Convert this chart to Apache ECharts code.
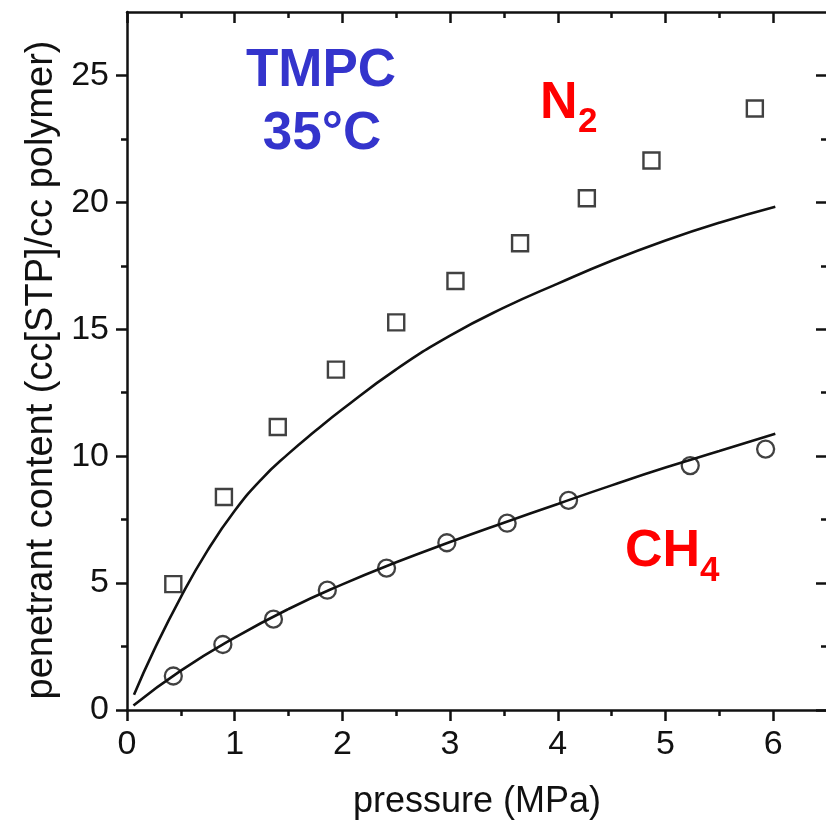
<!DOCTYPE html>
<html>
<head>
<meta charset="utf-8">
<script src="https://cdn.jsdelivr.net/npm/echarts@6/dist/echarts.min.js"></script>
<style>
  html, body { margin: 0; padding: 0; background: #ffffff; }
  #chart { width: 826px; height: 826px; }
</style>
</head>
<body>
<div id="chart"></div>
<script>
// Tick positions
const xMajorTicks = [0, 1, 2, 3, 4, 5, 6];
const xMinorTicks = [0.5, 1.5, 2.5, 3.5, 4.5, 5.5];
const yMajorTicks = [0, 5, 10, 15, 20, 25];
const yMinorTicks = [2.5, 7.5, 12.5, 17.5, 22.5];

// Measured sorption data: [pressure MPa, cc(STP)/cc polymer]
const n2Measured = [
  [0.43, 4.96], [0.90, 8.39], [1.40, 11.15], [1.94, 13.41], [2.50, 15.27],
  [3.05, 16.90], [3.65, 18.39], [4.27, 20.16], [4.87, 21.65], [5.83, 23.70]
];
const ch4Measured = [
  [0.43, 1.34], [0.89, 2.58], [1.36, 3.58], [1.86, 4.72], [2.41, 5.59],
  [2.97, 6.59], [3.53, 7.36], [4.10, 8.26], [5.23, 9.63], [5.93, 10.28]
];

// Model curves
const n2Fit = [
  [0.065, 0.60], [0.25, 2.35], [0.50, 4.45], [0.75, 6.30], [1.00, 7.85],
  [1.25, 9.10], [1.50, 10.10], [1.75, 11.00], [2.00, 11.85], [2.50, 13.42],
  [3.00, 14.75], [3.50, 15.85], [4.00, 16.80], [4.50, 17.70], [5.00, 18.50],
  [5.50, 19.20], [6.02, 19.83]
];
const ch4Fit = [
  [0.06, 0.18], [0.50, 1.55], [1.00, 2.85], [1.50, 3.98], [2.00, 4.95],
  [2.50, 5.82], [3.00, 6.62], [3.50, 7.38], [4.00, 8.12], [4.50, 8.85],
  [5.00, 9.55], [5.50, 10.20], [6.02, 10.88]
];

const X_MAX = 6.5;
const Y_MAX = 27.5;
const INK = '#111111';
const FONT = '"Liberation Sans", Arial, Helvetica, sans-serif';

const gridRect = { left: 127, top: 12, width: 700, height: 698, outerBoundsMode: 'none' };

function makeAxis(kind, gridIndex, position, ticks, tickLen, inside, withLabels, withLine) {
  const isX = kind === 'x';
  return {
    type: 'value',
    gridIndex: gridIndex,
    position: position,
    min: 0,
    max: isX ? X_MAX : Y_MAX,
    interval: isX ? 1 : 5,
    axisLine: { show: withLine, onZero: false, lineStyle: { color: INK, width: 2.5 } },
    axisTick: {
      show: true, inside: inside, length: tickLen,
      customValues: ticks,
      lineStyle: { color: INK, width: 2.5 }
    },
    axisLabel: {
      show: withLabels,
      customValues: ticks,
      margin: 18,
      color: INK,
      fontSize: 34,
      fontFamily: FONT
    },
    splitLine: { show: false }
  };
}

const xAxes = [
  Object.assign(makeAxis('x', 0, 'bottom', xMajorTicks, 11, false, true, true), {
    name: 'pressure (MPa)',
    nameLocation: 'middle',
    nameGap: 74,
    nameTextStyle: { color: INK, fontSize: 36, fontFamily: FONT }
  }),
  makeAxis('x', 0, 'top', xMajorTicks, 11, true, false, true),
  makeAxis('x', 1, 'bottom', xMinorTicks, 6, false, false, false),
  makeAxis('x', 1, 'top', xMinorTicks, 6, true, false, false)
];

const yAxes = [
  Object.assign(makeAxis('y', 0, 'left', yMajorTicks, 11, false, true, true), {
    name: 'penetrant content (cc[STP]/cc polymer)',
    nameLocation: 'middle',
    nameRotate: 90,
    nameGap: 66,
    nameTextStyle: { color: INK, fontSize: 38, fontFamily: FONT, padding: [0, 18, 0, 0] }
  }),
  makeAxis('y', 0, 'right', yMajorTicks, 11, true, false, true),
  makeAxis('y', 1, 'left', yMinorTicks, 6, false, false, false),
  makeAxis('y', 1, 'right', yMinorTicks, 6, true, false, false)
];

const chart = echarts.init(document.getElementById('chart'), null, { renderer: 'canvas' });

chart.setOption({
  backgroundColor: '#ffffff',
  animation: false,
  grid: [Object.assign({}, gridRect), Object.assign({}, gridRect)],
  xAxis: xAxes,
  yAxis: yAxes,
  series: [
    {
      name: 'N2 model', type: 'line', xAxisIndex: 0, yAxisIndex: 0,
      data: n2Fit, smooth: 0.5, showSymbol: false,
      lineStyle: { color: INK, width: 2.6 }, z: 2
    },
    {
      name: 'CH4 model', type: 'line', xAxisIndex: 0, yAxisIndex: 0,
      data: ch4Fit, smooth: 0.5, showSymbol: false,
      lineStyle: { color: INK, width: 2.6 }, z: 2
    },
    {
      name: 'N2', type: 'scatter', xAxisIndex: 0, yAxisIndex: 0,
      data: n2Measured, symbol: 'rect', symbolSize: 16,
      itemStyle: { color: '#ffffff', borderColor: INK, borderWidth: 2.4 }, z: 3
    },
    {
      name: 'CH4', type: 'scatter', xAxisIndex: 0, yAxisIndex: 0,
      data: ch4Measured, symbol: 'circle', symbolSize: 17,
      itemStyle: { color: 'rgba(255,255,255,0)', borderColor: INK, borderWidth: 2.3 }, z: 3
    }
  ],
  graphic: [
    {
      type: 'text', x: 321, y: 71, z: 10,
      style: { text: 'TMPC', fill: '#3434cc', font: 'bold 53px ' + FONT, textAlign: 'center', textVerticalAlign: 'middle' }
    },
    {
      type: 'text', x: 322, y: 134, z: 10,
      style: { text: '35°C', fill: '#3434cc', font: 'bold 53px ' + FONT, textAlign: 'center', textVerticalAlign: 'middle' }
    },
    {
      type: 'text', x: 540, y: 103.5, z: 10,
      style: { text: 'N', fill: '#ff0000', font: 'bold 52px ' + FONT, textAlign: 'left', textVerticalAlign: 'middle' }
    },
    {
      type: 'text', x: 578, y: 122.5, z: 10,
      style: { text: '2', fill: '#ff0000', font: 'bold 35px ' + FONT, textAlign: 'left', textVerticalAlign: 'middle' }
    },
    {
      type: 'text', x: 625, y: 551.5, z: 10,
      style: { text: 'CH', fill: '#ff0000', font: 'bold 52px ' + FONT, textAlign: 'left', textVerticalAlign: 'middle' }
    },
    {
      type: 'text', x: 700, y: 571.5, z: 10,
      style: { text: '4', fill: '#ff0000', font: 'bold 35px ' + FONT, textAlign: 'left', textVerticalAlign: 'middle' }
    }
  ]
});
</script>
</body>
</html>
